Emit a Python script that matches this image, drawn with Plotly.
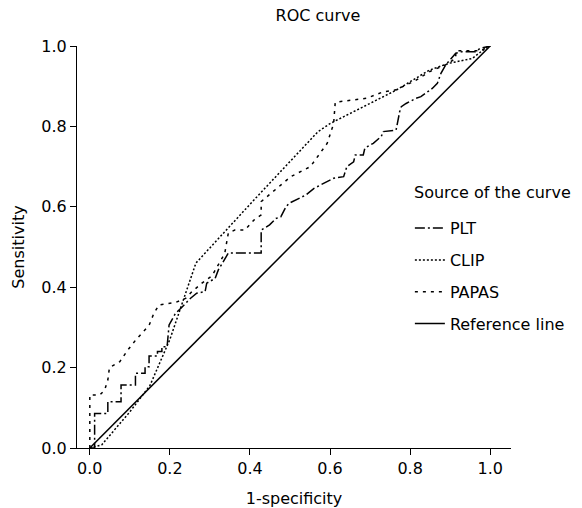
import plotly.graph_objects as go

# ---- data ----
plt_x = [0, 0.012, 0.012, 0.045, 0.045, 0.078, 0.078, 0.114, 0.114, 0.138, 0.138, 0.148, 0.148,
         0.169, 0.169, 0.18, 0.18, 0.193, 0.198, 0.214, 0.23, 0.251, 0.267, 0.288, 0.292, 0.313,
         0.321, 0.337, 0.346, 0.428, 0.428, 0.449, 0.465, 0.477, 0.49, 0.498, 0.523, 0.539, 0.56,
         0.584, 0.609, 0.634, 0.642, 0.659, 0.663, 0.683, 0.687, 0.708, 0.728, 0.733, 0.757, 0.765,
         0.774, 0.778, 0.79, 0.815, 0.827, 0.844, 0.856, 0.868, 0.877, 0.889, 0.914, 0.93, 0.963,
         0.975, 1.0]
plt_y = [0, 0, 0.086, 0.086, 0.115, 0.115, 0.157, 0.157, 0.186, 0.186, 0.202, 0.202, 0.229,
         0.229, 0.24, 0.24, 0.252, 0.252, 0.306, 0.335, 0.35, 0.372, 0.385, 0.389, 0.41, 0.422,
         0.443, 0.472, 0.485, 0.485, 0.542, 0.555, 0.571, 0.575, 0.6, 0.609, 0.621, 0.629, 0.646,
         0.658, 0.671, 0.675, 0.70, 0.712, 0.729, 0.729, 0.746, 0.758, 0.775, 0.787, 0.791, 0.791,
         0.837, 0.849, 0.857, 0.87, 0.874, 0.886, 0.895, 0.907, 0.932, 0.953, 0.982, 0.986, 0.986,
         0.994, 1.0]

clip_x = [0, 0.03, 0.1, 0.15, 0.2, 0.265, 0.41, 0.57, 0.6, 0.765, 0.848, 0.897, 0.955, 0.988, 1.0]
clip_y = [0, 0.008, 0.09, 0.155, 0.27, 0.46, 0.617, 0.787, 0.807, 0.89, 0.94, 0.957, 0.969, 0.994, 1.0]

papas_x = [0, 0, 0.025, 0.037, 0.045, 0.049, 0.075, 0.095, 0.115, 0.148, 0.16, 0.173, 0.214,
           0.239, 0.255, 0.28, 0.305, 0.321, 0.337, 0.346, 0.362, 0.387, 0.41, 0.428, 0.428,
           0.502, 0.551, 0.593, 0.609, 0.613, 0.691, 0.733, 0.765, 0.815, 0.848, 0.893, 0.914,
           0.914, 0.975, 1.0]
papas_y = [0, 0.132, 0.132, 0.144, 0.169, 0.2, 0.215, 0.244, 0.269, 0.305, 0.335, 0.356, 0.362,
           0.372, 0.389, 0.41, 0.428, 0.455, 0.484, 0.535, 0.542, 0.542, 0.567, 0.58, 0.613,
           0.675, 0.70, 0.758, 0.807, 0.86, 0.87, 0.886, 0.891, 0.915, 0.936, 0.955, 0.97,
           0.988, 0.988, 1.0]

ref_x = [0, 1]
ref_y = [0, 1]

tick_vals = [0.0, 0.2, 0.4, 0.6, 0.8, 1.0]
tick_text = ["0.0", "0.2", "0.4", "0.6", "0.8", "1.0"]

FONT = "DejaVu Sans"
FS = 16

fig = go.Figure()
fig.add_trace(go.Scatter(x=plt_x, y=plt_y, mode="lines", name="PLT", legendgroup="a",
                         line=dict(color="black", width=1.5, dash="10px,3px,2px,3px")))
fig.add_trace(go.Scatter(x=clip_x, y=clip_y, mode="lines", name="CLIP", legendgroup="b",
                         line=dict(color="black", width=1.5, dash="2px,2px")))
fig.add_trace(go.Scatter(x=papas_x, y=papas_y, mode="lines", name="PAPAS", legendgroup="c",
                         line=dict(color="black", width=1.5, dash="3px,5px")))
fig.add_trace(go.Scatter(x=ref_x, y=ref_y, mode="lines", name="Reference line", legendgroup="d",
                         line=dict(color="black", width=1.5)))

axis_common = dict(showline=True, linecolor="black", linewidth=1, ticks="outside", ticklen=6,
                   tickcolor="black", showgrid=False, zeroline=False, automargin=False,
                   tickvals=tick_vals, ticktext=tick_text,
                   tickfont=dict(family=FONT, size=FS, color="black"))

fig.update_layout(
    width=582, height=508,
    margin=dict(l=77, r=67, t=46, b=60),
    paper_bgcolor="white", plot_bgcolor="white",
    font=dict(family=FONT, size=FS, color="black"),
    title=dict(text="ROC curve", x=318 / 582, xref="container", xanchor="center",
               y=1 - 15 / 508, yref="container", yanchor="middle",
               font=dict(family=FONT, size=FS, color="black")),
    xaxis=dict(range=[-0.032, 1.052],
               title=dict(text="1-specificity", standoff=20, font=dict(family=FONT, size=FS)),
               **axis_common),
    yaxis=dict(range=[0, 1.0],
               title=dict(text="Sensitivity", standoff=12, font=dict(family=FONT, size=FS)),
               **axis_common),
    legend=dict(x=0.767, xanchor="left", y=0.589, yanchor="top",
                font=dict(family=FONT, size=FS, color="black"),
                traceorder="grouped", tracegroupgap=8, itemwidth=30,
                bgcolor="rgba(0,0,0,0)"),
    showlegend=True,
    annotations=[dict(text="Source of the curve", xref="paper", yref="paper",
                      x=0.767, y=(448 - 192) / 402, xanchor="left", yanchor="middle",
                      showarrow=False, xshift=2,
                      font=dict(family=FONT, size=FS, color="black"))],
)

fig.write_html("out.html")
